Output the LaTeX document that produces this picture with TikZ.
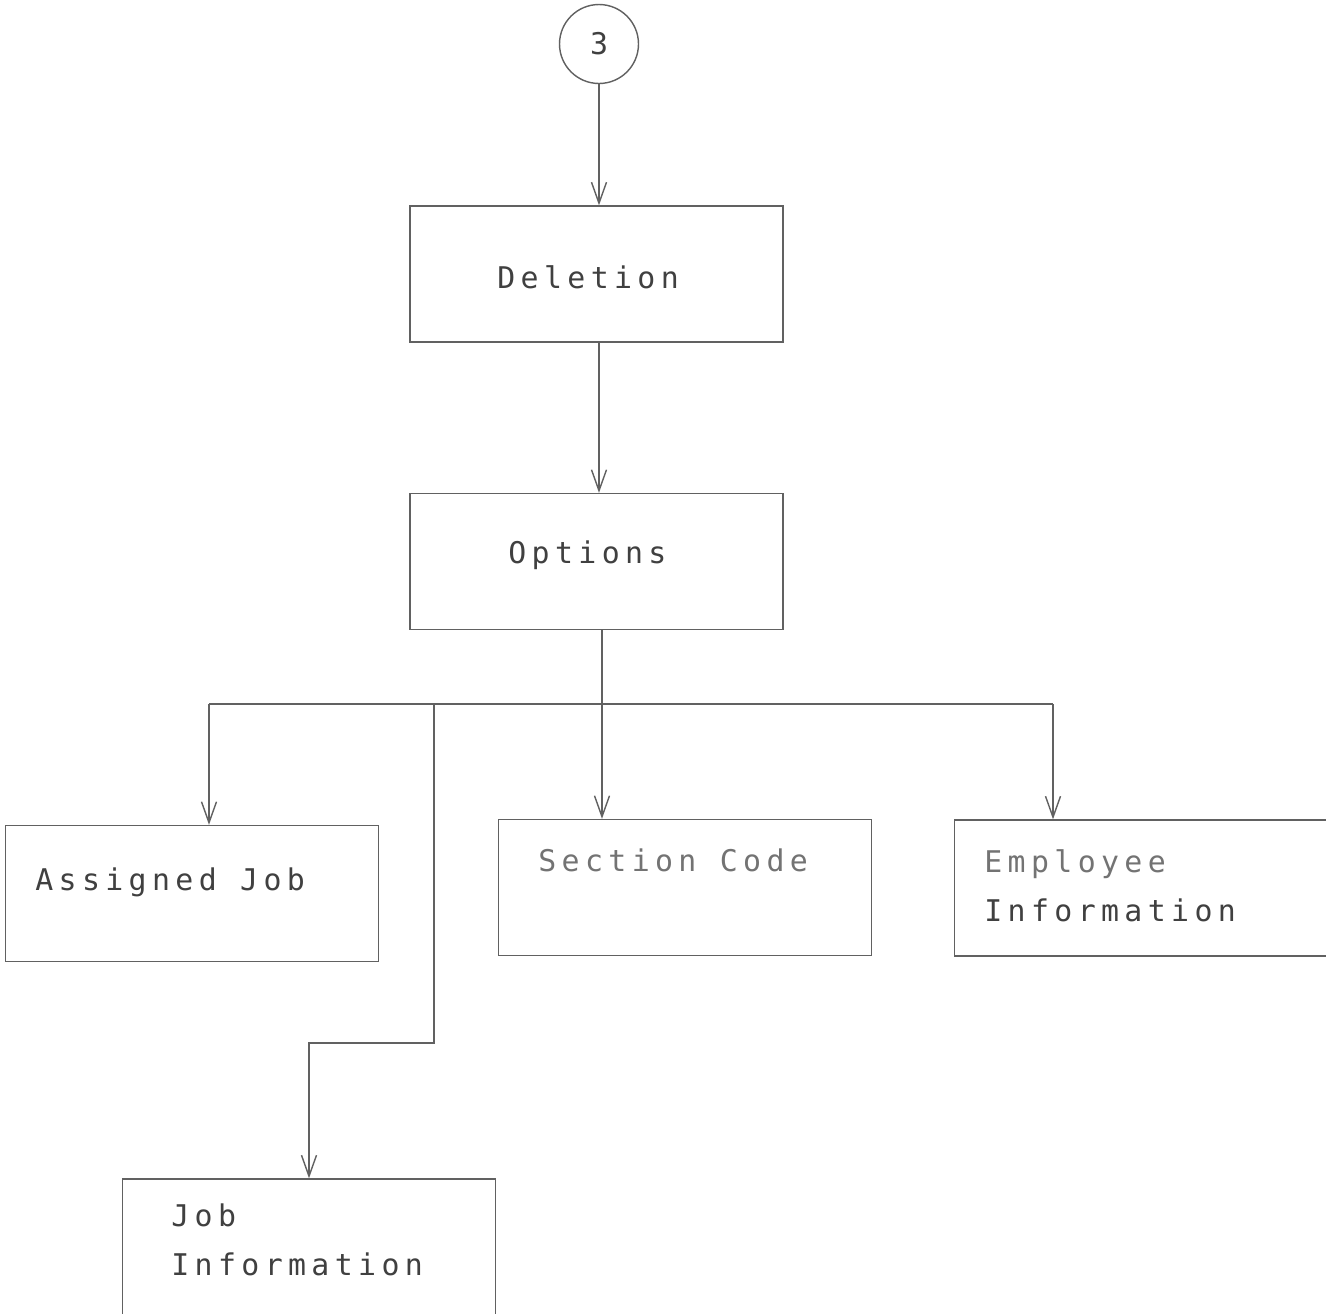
\documentclass[tikz,border=0pt]{standalone}
\usepackage{fontspec}
\usepackage{tikz}
\usetikzlibrary{positioning,arrows.meta}
\newfontfamily\dotfont[LetterSpace=18]{DejaVu Sans Mono}
\definecolor{linegray}{gray}{0.38}
\definecolor{inkgray}{gray}{0.25}
\definecolor{fadegray}{gray}{0.45}
\tikzset{
  flowline/.style={draw=linegray, line width=0.8pt},
  flowarrow/.style={flowline, -{Straight Barb[length=0.42cm, width=0.3cm, line width=0.8pt]}},
  menubox/.style={draw=linegray, line width=0.8pt, minimum width=7.46cm, minimum height=2.72cm, inner sep=0pt},
  connector/.style={draw=linegray, line width=0.8pt, circle, minimum size=1.58cm, inner sep=0pt, text=inkgray, font=\dotfont\fontsize{17pt}{20pt}\selectfont},
  boxtext/.style={anchor=base west, inner sep=0pt, align=left, text=inkgray, font=\dotfont\fontsize{17pt}{27.5pt}\selectfont}
}
\begin{document}
\begin{tikzpicture}[x=0.02cm, y=-0.02cm]
  \useasboundingbox (0,0) rectangle (1326,1313);
  \clip (0,0) rectangle (1326,1313);
  \fill[white] (0,0) rectangle (1326,1313);

  % off-page connector and menu chain
  \node[connector] (c3) at (599,44) {3};
  \node[menubox] (del) at (596.5,274) {};
  \node[menubox] (opt) at (596.5,561.5) {};
  \node[boxtext] (deltxt) at (497,288) {Deletion};
  \node[boxtext] (opttxt) at (508,563) {Options};

  % option boxes
  \node[menubox] (aj) at (192,893.5) {};
  \node[menubox] (sec) at (685,887.5) {};
  \node[menubox] (emp) at (1141,888) {};
  \node[menubox] (ji) at (309,1247) {};
  \node[boxtext] (ajtxt) at (35,890) {Assigned Job};
  \node[boxtext, text=fadegray] (sectxt) at (538,871) {Section Code};
  % base of a two-line node is its last line
  \node[boxtext] (emptxt) at (984,921) {\textcolor{fadegray}{Employee}\\Information};
  \node[boxtext] (jitxt) at (171,1275) {Job\\Information};

  % branch points
  \coordinate (hub) at (602,704);
  \coordinate (barL) at (209,704);
  \coordinate (barR) at (1053,704);
  \coordinate (barJ) at (434,704);
  \coordinate (jog) at (434,1043);

  \draw[flowarrow] (c3.south) -- (c3.south |- del.north);
  \draw[flowarrow] (c3 |- del.south) -- (c3 |- opt.north);
  \draw[flowarrow] (hub |- opt.south) -- (hub |- sec.north);
  \draw[flowline] (barL) -- (barR);
  \draw[flowarrow] (barL) -- (barL |- aj.north);
  \draw[flowarrow] (barR) -- (barR |- emp.north);
  \draw[flowarrow] (barJ) -- (jog) -| (ji.north);
\end{tikzpicture}
\end{document}
